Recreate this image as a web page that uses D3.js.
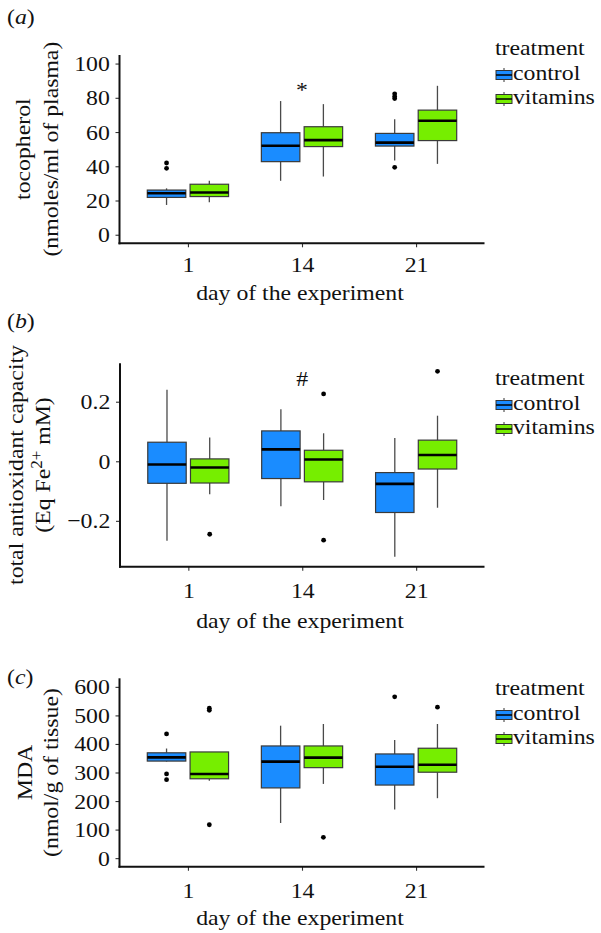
<!DOCTYPE html>
<html><head><meta charset="utf-8">
<script src="https://cdn.jsdelivr.net/npm/d3@7"></script>
<style>
html,body{margin:0;padding:0;background:#fff;}
svg text{font-family:"Liberation Serif","Times New Roman",serif;fill:#111;}
</style></head>
<body>
<svg id="chart" width="601" height="933"></svg>
<script>
// ---------- DATA ----------
const days = ["1", "14", "21"];
const groups = ["control", "vitamins"];
const groupColors = ["#1a8cff", "#76ee00"];

// stats per day: [lower whisker, Q1, median, Q3, upper whisker]
const tocoControl  = [[17.4, 21.8, 24.2, 26.1, 27.1], [31.5, 42.7, 52.0, 59.6, 78.1], [43.3, 51.8, 53.8, 59.2, 67.4]];
const tocoVitamins = [[19.0, 22.3, 24.7, 29.5, 31.5], [34.0, 51.5, 55.3, 63.1, 76.3], [41.4, 55.0, 66.6, 72.8, 87.0]];
const tocoControlOut  = [[41.9, 38.8], [], [82.3, 80.8, 79.6, 39.4]];
const tocoVitaminsOut = [[], [], []];
const tocoTicks = [0, 20, 40, 60, 80, 100];

const taxControl  = [[-0.267, -0.074, -0.011, 0.064, 0.240], [-0.151, -0.058, 0.040, 0.102, 0.175], [-0.321, -0.172, -0.076, -0.038, 0.078]];
const taxVitamins = [[-0.111, -0.073, -0.021, 0.008, 0.080], [-0.130, -0.069, 0.006, 0.037, 0.094], [-0.156, -0.026, 0.021, 0.071, 0.153]];
const taxControlOut  = [[], [], []];
const taxVitaminsOut = [[-0.245], [0.226, -0.265], [0.302]];
const taxTicks = [-0.2, 0, 0.2];

const mdaControl  = [[338, 340, 353, 369, 384], [123, 246, 338, 393, 464], [170, 256, 320, 365, 414]];
const mdaVitamins = [[271, 278, 295, 372, 372], [260, 317, 352, 393, 470], [210, 301, 327, 385, 470]];
const mdaControlOut  = [[435, 295, 275], [], [565]];
const mdaVitaminsOut = [[525, 518, 117], [73], [529]];
const mdaTicks = [0, 100, 200, 300, 400, 500, 600];

// ---------- LAYOUT ----------
const FS = 22, SX = 1.08;
const svg = d3.select("#chart");

const panels = [
  {label: "a", ctrl: tocoControl, vit: tocoVitamins, ctrlOut: tocoControlOut, vitOut: tocoVitaminsOut,
   ticks: tocoTicks, fmt: d => String(d), domain: [-5, 105],
   top: 55, bottom: 243.3, left: 119.5, right: 484.5,
   labelY: 24, tickBase: 28.4, xTitleY: 300,
   yTitle: [{t: "tocopherol", x: 30}, {t: "(nmoles/ml of plasma)", x: 58}],
   legendY: 55, sig: {t: "*", y: 97}},
  {label: "b", ctrl: taxControl, vit: taxVitamins, ctrlOut: taxControlOut, vitOut: taxVitaminsOut,
   ticks: taxTicks, fmt: d => d === 0 ? "0" : (d < 0 ? "\u2212" + Math.abs(d).toFixed(1) : d.toFixed(1)),
   domain: [-0.354, 0.329],
   top: 363.3, bottom: 566.7, left: 120, right: 484.5,
   labelY: 328, tickBase: 31.6, xTitleY: 628,
   yTitle: [{t: "total antioxidant capacity", x: 23}, {t: "FE", x: 50}],
   legendY: 385, sig: {t: "#", y: 386}},
  {label: "c", ctrl: mdaControl, vit: mdaVitamins, ctrlOut: mdaControlOut, vitOut: mdaVitaminsOut,
   ticks: mdaTicks, fmt: d => String(d), domain: [-30, 630],
   top: 678.3, bottom: 866.7, left: 119.5, right: 484.5,
   labelY: 684, tickBase: 31.6, xTitleY: 925,
   yTitle: [{t: "MDA", x: 32}, {t: "(nmol/g of tissue)", x: 58}],
   legendY: 695, sig: null}
];

function addText(g, x, y, s, anchor, rot) {
  return g.append("text")
    .attr("transform", `translate(${x},${y}) rotate(${rot || 0}) scale(${SX},1)`)
    .attr("text-anchor", anchor || "start")
    .attr("font-size", FS)
    .text(s);
}

panels.forEach(p => {
  const g = svg.append("g");
  const x = d3.scalePoint().domain(days).range([p.left, p.right]).padding(0.6);
  const y = d3.scaleLinear().domain(p.domain).range([p.bottom, p.top]);
  const step = x.step();
  const slot = 0.375 * step, bw = 0.9 * slot;

  // y axis
  const ya = g.append("g").attr("transform", `translate(${p.left},0)`)
    .call(d3.axisLeft(y).tickValues(p.ticks).tickFormat(p.fmt).tickSize(4).tickPadding(5));
  ya.select(".domain").remove();
  ya.selectAll(".tick line").attr("stroke", "#333").attr("stroke-width", 1.1);
  ya.selectAll(".tick text").attr("font-size", FS).attr("fill", "#111")
    .attr("font-family", "Liberation Serif, serif")
    .attr("transform", `scale(${SX},1)`);

  // x axis
  const xa = g.append("g").attr("transform", `translate(0,${p.bottom})`)
    .call(d3.axisBottom(x).tickSize(4).tickPadding(0));
  xa.select(".domain").remove();
  xa.selectAll(".tick line").attr("stroke", "#333").attr("stroke-width", 1.1);
  xa.selectAll(".tick text").attr("font-size", FS).attr("fill", "#111")
    .attr("font-family", "Liberation Serif, serif")
    .attr("y", p.tickBase).attr("dy", 0)
    .attr("transform", `scale(${SX},1)`);

  // axis lines
  g.append("line").attr("x1", p.left).attr("x2", p.left).attr("y1", p.top).attr("y2", p.bottom + 1)
    .attr("stroke", "#111").attr("stroke-width", 2);
  g.append("line").attr("x1", p.left - 1).attr("x2", p.right).attr("y1", p.bottom).attr("y2", p.bottom)
    .attr("stroke", "#111").attr("stroke-width", 2);

  // boxes
  const rows = [];
  days.forEach((d, i) => {
    rows.push({day: d, gi: 0, s: p.ctrl[i], out: p.ctrlOut[i]});
    rows.push({day: d, gi: 1, s: p.vit[i], out: p.vitOut[i]});
  });
  rows.forEach(r => {
    const cx = x(r.day) + (r.gi === 0 ? -slot / 2 : slot / 2);
    const [lo, q1, med, q3, hi] = r.s;
    const bg = g.append("g");
    bg.append("line").attr("x1", cx).attr("x2", cx).attr("y1", y(q3)).attr("y2", y(hi))
      .attr("stroke", "#4a4a4a").attr("stroke-width", 1.3);
    bg.append("line").attr("x1", cx).attr("x2", cx).attr("y1", y(q1)).attr("y2", y(lo))
      .attr("stroke", "#4a4a4a").attr("stroke-width", 1.3);
    bg.append("rect").attr("x", cx - bw / 2).attr("width", bw)
      .attr("y", y(q3)).attr("height", y(q1) - y(q3))
      .attr("fill", groupColors[r.gi]).attr("stroke", "#3a3a3a").attr("stroke-width", 1.2);
    bg.append("line").attr("x1", cx - bw / 2).attr("x2", cx + bw / 2).attr("y1", y(med)).attr("y2", y(med))
      .attr("stroke", "#000").attr("stroke-width", 2.6);
    r.out.forEach(v => {
      bg.append("circle").attr("cx", cx).attr("cy", y(v)).attr("r", 2.4).attr("fill", "#000");
    });
  });

  // significance mark
  if (p.sig) addText(g, x("14"), p.sig.y, p.sig.t, "middle");

  // panel label (a)
  const lt = g.append("text").attr("transform", `translate(7,${p.labelY}) scale(${SX},1)`).attr("font-size", FS);
  lt.append("tspan").text("(");
  lt.append("tspan").attr("font-style", "italic").text(p.label);
  lt.append("tspan").text(")");

  // y title
  const cy = (p.top + p.bottom) / 2;
  p.yTitle.forEach(l => {
    if (l.t === "FE") {
      const t = g.append("text")
        .attr("transform", `translate(${l.x},${cy}) rotate(-90) scale(${SX},1)`)
        .attr("text-anchor", "middle").attr("font-size", FS);
      t.append("tspan").text("(Eq Fe");
      t.append("tspan").attr("font-size", FS * 0.72).attr("dy", -8).text("2+");
      t.append("tspan").attr("dy", 8).text(" mM)");
    } else {
      addText(g, l.x, cy, l.t, "middle", -90);
    }
  });

  // x title
  addText(g, 300, p.xTitleY, "day of the experiment", "middle");

  // legend
  const lg = g.append("g");
  addText(lg, 495, p.legendY, "treatment", "start");
  groups.forEach((name, i) => {
    const ky = p.legendY + 20 + i * 24;
    const kx = 496, kw = 16;
    lg.append("line").attr("x1", kx + kw / 2).attr("x2", kx + kw / 2).attr("y1", ky - 7).attr("y2", ky + 7)
      .attr("stroke", "#333").attr("stroke-width", 1);
    lg.append("rect").attr("x", kx).attr("y", ky - 4.5).attr("width", kw).attr("height", 9)
      .attr("fill", groupColors[i]).attr("stroke", "#333").attr("stroke-width", 1);
    lg.append("line").attr("x1", kx).attr("x2", kx + kw).attr("y1", ky).attr("y2", ky)
      .attr("stroke", "#000").attr("stroke-width", 1.5);
    addText(lg, 513, ky + 4.5, name, "start");
  });
});
</script>
</body></html>
